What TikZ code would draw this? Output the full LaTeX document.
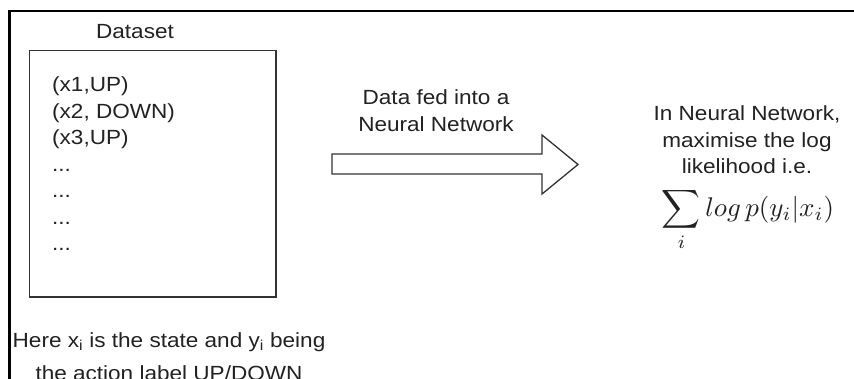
\documentclass[tikz,border=0pt]{standalone}
\usepackage{graphicx}
\usepackage{fontspec}
\setmainfont{Liberation Sans}[FakeStretch=1.1]
\definecolor{ink}{HTML}{222222}
\definecolor{edge}{HTML}{333333}
\tikzset{
  lbl/.style={inner sep=0pt, text=ink, font=\fontsize{20.5}{26.5}\selectfont},
  frame/.style={line width=2.4pt, black, line join=miter},
  databox/.style={draw=edge, line width=1.1pt, inner sep=0pt,
                  minimum width=246.5pt, minimum height=246.5pt},
  blockarrow/.style={draw=edge, line width=1.3pt, fill=white, line join=miter},
}
\begin{document}
\begin{tikzpicture}[x=1pt, y=-1pt]
  \useasboundingbox (0,0) rectangle (854,378);
  \fill[white] (0,0) rectangle (854,378);

  % outer frame (top and left sides only)
  \draw[frame] (9.5,380) -- (9.5,11) -- (856,11);

  % dataset box and its title
  \node[lbl, anchor=base] (title) at (135,38) {Dataset};
  \node[databox] (dataset) at (152.75,173.75) {};
  % multi-line nodes sit on the baseline of their last line
  \node[lbl, anchor=base west, align=left] (rows) at (52,250.5)
    {(x1,UP)\\(x2, DOWN)\\(x3,UP)\\...\\...\\...\\...};

  % block arrow into the network
  \coordinate (a1) at (332,154);
  \coordinate (a2) at (542,154);
  \coordinate (a3) at (542,135);
  \coordinate (tip) at (578,164.5);
  \coordinate (a5) at (542,194);
  \coordinate (a6) at (542,174);
  \coordinate (a7) at (332,174);
  \draw[blockarrow] (a1) -- (a2) -- (a3) -- (tip) -- (a5) -- (a6) -- (a7) -- cycle;
  \node[lbl, anchor=base, align=center] (feed) at (436,131)
    {Data fed into a\\Neural Network};

  % objective
  \node[lbl, anchor=base, align=center] (objective) at (747,173.5)
    {In Neural Network,\\maximise the log\\likelihood i.e.};
  \node[inner sep=0pt, text=ink, anchor=base] (loglik) at (748,216.5)
    {\scalebox{2.7}{$\displaystyle\sum_i log\, p(y_i|x_i)$}};

  % note under the box, running past the lower edge
  \node[lbl, anchor=base, align=center, font=\fontsize{20.5}{33}\selectfont] (note) at (169,380.5)
    {Here x\textsubscript{i} is the state and y\textsubscript{i} being\\the action label UP/DOWN};
\end{tikzpicture}
\end{document}
